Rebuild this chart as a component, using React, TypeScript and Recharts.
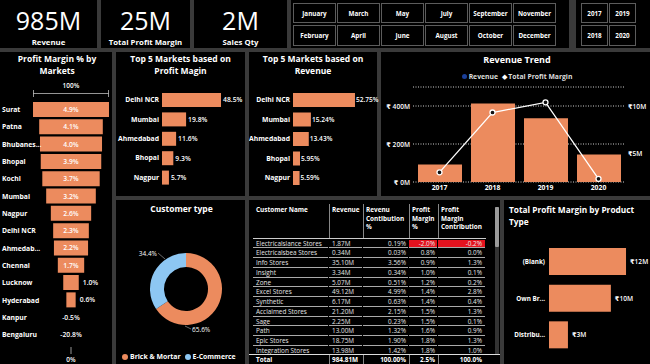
import React from 'react';
import {
  BarChart, Bar, XAxis, YAxis, LabelList, ComposedChart, Line,
  CartesianGrid, PieChart, Pie, Cell,
} from 'recharts';

const FONT = '"Open Sans", "DejaVu Sans", Arial, sans-serif';
const ORANGE = '#EC8B5E';
const BLUE = '#8DC7F3';
const GAP = '#3a3a3a';

// KPI cards
const kpiValues = ['985M', '25M', '2M'];
const kpiLabels = ['Revenue', 'Total Profit Margin', 'Sales Qty'];

// slicers
const monthsRow1 = ['January', 'March', 'May', 'July', 'September', 'November'];
const monthsRow2 = ['February', 'April', 'June', 'August', 'October', 'December'];
const yearsRow1 = ['2017', '2019'];
const yearsRow2 = ['2018', '2020'];

// funnel: profit margin % by markets
const funnelMarkets = ['Surat', 'Patna', 'Bhubanes...', 'Bhopal', 'Kochi', 'Mumbai', 'Nagpur', 'Delhi NCR', 'Ahmedab...', 'Chennai', 'Lucknow', 'Hyderabad', 'Kanpur', 'Bengaluru'];
const funnelPM = [4.9, 4.1, 4.0, 3.9, 3.7, 3.2, 2.6, 2.3, 2.2, 1.7, 1.0, 0.6, -0.5, -20.8];

// top 5 markets
const top5Markets = ['Delhi NCR', 'Mumbai', 'Ahmedabad', 'Bhopal', 'Nagpur'];
const top5Profit = [48.5, 19.8, 11.6, 9.3, 5.7];
const top5RevMarkets = ['Delhi NCR', 'Mumbai', 'Ahmedabad', 'Bhopal', 'Nagpur'];
const top5Revenue = [52.75, 15.24, 13.43, 5.95, 5.59];

// revenue trend
const trendYears = ['2017', '2018', '2019', '2020'];
const trendRevenue = [92, 413, 335, 145];
const trendProfit = [2.9, 9.4, 10.5, 2.2];

// customer type
const custTypes = ['Brick & Mortar', 'E-Commerce'];
const custShare = [65.6, 34.4];

// product type
const productTypes = ['(Blank)', 'Own Br...', 'Distribu...'];
const productProfit = [12.2, 9.8, 3.0];

// table
const tblNames = ['Electricalslance Stores', 'Electricalsbea Stores', 'Info Stores', 'Insight', 'Zone', 'Excel Stores', 'Synthetic', 'Acclaimed Stores', 'Sage', 'Path', 'Epic Stores', 'Integration Stores'];
const tblRevenue = ['1.87M', '0.34M', '35.10M', '3.34M', '5.07M', '49.12M', '6.17M', '21.20M', '2.25M', '13.00M', '18.75M', '13.98M'];
const tblRevContrib = ['0.19%', '0.03%', '3.56%', '0.34%', '0.51%', '4.99%', '0.63%', '2.15%', '0.23%', '1.32%', '1.90%', '1.42%'];
const tblPM = ['-2.0%', '0.8%', '0.9%', '1.0%', '1.2%', '1.4%', '1.4%', '1.5%', '1.5%', '1.6%', '1.8%', '1.8%'];
const tblPMC = ['-0.2%', '0.0%', '1.3%', '0.1%', '0.2%', '2.8%', '0.4%', '1.3%', '0.1%', '0.9%', '1.3%', '1.0%'];
const tblTotal = ['Total', '984.81M', '100.00%', '2.5%', '100.0%'];

const funnelData = funnelMarkets.map((m, i) => ({
  market: m,
  pm: funnelPM[i],
  range: funnelPM[i] > 0 ? [-funnelPM[i] / 2, funnelPM[i] / 2] : [0, 0],
  label: `${funnelPM[i].toFixed(1)}%`,
}));
const top5ProfitData = top5Markets.map((m, i) => ({ market: m, v: top5Profit[i] }));
const top5RevData = top5RevMarkets.map((m, i) => ({ market: m, v: top5Revenue[i] }));
const trendData = trendYears.map((y, i) => ({ year: y, revenue: trendRevenue[i], profit: trendProfit[i] }));
const custData = custTypes.map((n, i) => ({ name: n, value: custShare[i] }));
const productData = productTypes.map((p, i) => ({ type: p, v: productProfit[i] }));

const panel = (x: number, y: number, w: number, h: number, children?: React.ReactNode) => (
  <div style={{ position: 'absolute', left: x, top: y, width: w, height: h, background: '#000', overflow: 'visible' }}>
    {children}
  </div>
);

const abs = (x: number, y: number, extra: React.CSSProperties = {}): React.CSSProperties => ({
  position: 'absolute', left: x, top: y, ...extra,
});

const Title = ({ x, y, w, lines, align = 'center', size = 8.5 }: any) => (
  <div style={abs(x, y, { width: w, textAlign: align, color: '#fff', fontWeight: 700, fontSize: size, lineHeight: `${size + 3.5}px`, whiteSpace: 'nowrap' })}>
    {lines.map((l: string, i: number) => <div key={i}>{l}</div>)}
  </div>
);

const Button = ({ x, y, w, h, text }: any) => (
  <div style={abs(x, y, { width: w - 2, height: h - 2, border: '1px solid #5c5c5c', color: '#fff', fontSize: 6.3, fontWeight: 700, display: 'flex', alignItems: 'center', justifyContent: 'center', background: '#000' })}>
    {text}
  </div>
);

const makeTick = (anchor: 'start' | 'end' | 'middle', size = 6.8, weight = 700, dy = 2.5, fixedX?: number, fmt?: (v: any) => string) => (p: any) => (
  <text x={fixedX !== undefined ? fixedX : p.x} y={p.y} dy={dy} fill="#fff" fontSize={size} fontWeight={weight} fontFamily={FONT} textAnchor={anchor}>
    {fmt ? fmt(p.payload.value) : p.payload.value}
  </text>
);

// funnel category tick; also shows the value of markets without a bar (negative margin) at the funnel centre
const FUNNEL_CENTER_X = 71;
const FunnelTick = (p: any) => {
  const d = funnelData[p.index];
  return (
    <g>
      <text x={2} y={p.y} dy={2.5} fill="#fff" fontSize={6.8} fontWeight={700} fontFamily={FONT} textAnchor="start">{p.payload.value}</text>
      {d && d.pm <= 0 ? (
        <text x={FUNNEL_CENTER_X} y={p.y} dy={2.5} fill="#fff" fontSize={6.8} fontWeight={600} fontFamily={FONT} textAnchor="middle">{d.label}</text>
      ) : null}
    </g>
  );
};
const RightAlignTick = makeTick('end', 6.8, 700, 2.5);
const ProductTick = makeTick('end', 6.3, 700, 2.5);
const XTick = makeTick('middle', 6.8, 700, 6);
const LeftMoneyTick = makeTick('end', 6.6, 600, 2.5, undefined, (v) => `₹ ${v}M`);
const RightMoneyTick = makeTick('start', 6.6, 600, 2.5, undefined, (v) => `₹${v}M`);

const FunnelLabel = (p: any) => {
  const { x, y, width, height, value } = p;
  const w = Number(width);
  if (String(value).startsWith('-') || !(w > 0)) return null;
  const cy = Number(y) + Number(height) / 2;
  if (w > 20) {
    return <text x={Number(x) + w / 2} y={cy} dy={2.5} fill="#fff" fontSize={6.8} fontWeight={600} textAnchor="middle" fontFamily={FONT}>{value}</text>;
  }
  return <text x={Number(x) + w + 4} y={cy} dy={2.5} fill="#fff" fontSize={6.8} fontWeight={600} textAnchor="start" fontFamily={FONT}>{value}</text>;
};

const PieLabel = (p: any) => {
  const { cx, cy, outerRadius, index, value } = p;
  const txt = `${Number(value).toFixed(1)}%`;
  if (index === 1) {
    return (
      <g>
        <line x1={cx - 28} y1={cy - 36} x2={cx - 21} y2={cy - 30} stroke="#999" strokeWidth={0.7} />
        <text x={cx - 29} y={cy - outerRadius} dy={2.5} fill="#fff" fontSize={6.5} fontFamily={FONT} textAnchor="end">{txt}</text>
      </g>
    );
  }
  return (
    <g>
      <line x1={cx - 1} y1={cy + outerRadius + 1} x2={cx + 5} y2={cy + outerRadius + 4} stroke="#999" strokeWidth={0.7} />
      <text x={cx + 6} y={cy + outerRadius + 4} dy={2.5} fill="#fff" fontSize={6.5} fontFamily={FONT} textAnchor="start">{txt}</text>
    </g>
  );
};

const cols = [
  { x: 253, w: 76, align: 'left' as const, pad: 3 },
  { x: 329, w: 34, align: 'left' as const, pad: 3 },
  { x: 363, w: 46, align: 'right' as const, pad: 2 },
  { x: 409, w: 29, align: 'right' as const, pad: 2 },
  { x: 438, w: 48, align: 'right' as const, pad: 3 },
];
const headers = [['Customer Name'], ['Revenue'], ['Revenu', 'Contibution', '%'], ['Profit', 'Margin', '%'], ['Profit', 'Margin', 'Contribution']];

export default function App() {
  const rowH = 9.76;
  return (
    <div style={{ position: 'fixed', left: 0, top: 0, width: 650, height: 364, background: GAP, fontFamily: FONT, overflow: 'hidden' }}>
      {/* KPI cards */}
      {[[0, 97], [101, 89], [194, 93]].map(([x, w], i) =>
        <React.Fragment key={i}>
          {panel(x, 0, w, 48)}
          <div style={abs(x, 5, { width: w, textAlign: 'center', color: '#fff', fontSize: 25, lineHeight: '30px' })}>{kpiValues[i]}</div>
          <div style={abs(x, 37, { width: w, textAlign: 'center', color: '#fff', fontSize: 7.8, fontWeight: 700 })}>{kpiLabels[i]}</div>
        </React.Fragment>
      )}
      {/* slicers */}
      {panel(291, 0, 278, 48)}
      {panel(576, 0, 74, 48)}
      {monthsRow1.map((m, i) => <Button key={m} x={293 + i * 44} y={3} w={43} h={20} text={m} />)}
      {monthsRow2.map((m, i) => <Button key={m} x={293 + i * 44} y={25} w={43} h={21} text={m} />)}
      {yearsRow1.map((m, i) => <Button key={m} x={581 + i * 28} y={3} w={27} h={20} text={m} />)}
      {yearsRow2.map((m, i) => <Button key={m} x={581 + i * 28} y={25} w={27} h={21} text={m} />)}

      {/* funnel panel */}
      {panel(0, 52, 112, 312)}
      <Title x={0} y={53} w={114} lines={['Profit Margin % by', 'Markets']} />
      <div style={abs(51, 81, { width: 40, textAlign: 'center', color: '#fff', fontSize: 6.5, fontWeight: 600 })}>100%</div>
      <svg style={abs(0, 0)} width={650} height={364}>
        <line x1={33} y1={93.5} x2={109} y2={93.5} stroke="#bbb" strokeWidth={0.8} />
        <line x1={33.5} y1={90} x2={33.5} y2={97} stroke="#bbb" strokeWidth={0.8} />
        <line x1={108.5} y1={90} x2={108.5} y2={97} stroke="#bbb" strokeWidth={0.8} />
        <line x1={71} y1={347} x2={71} y2={354} stroke="#bbb" strokeWidth={0.8} />
      </svg>
      <div style={abs(51, 355, { width: 40, textAlign: 'center', color: '#fff', fontSize: 6.5, fontWeight: 600 })}>0%</div>
      <div style={abs(0, 101.3)}>
        <BarChart width={112} height={242.3} data={funnelData} layout="vertical" margin={{ top: 0, right: 3, bottom: 0, left: 0 }}>
          <XAxis type="number" hide domain={[-2.45, 2.45]} />
          <YAxis type="category" dataKey="market" width={33} tick={FunnelTick} interval={0} tickLine={false} axisLine={false} />
          <Bar dataKey="range" fill={ORANGE} barSize={15} isAnimationActive={false}>
            <LabelList dataKey="label" content={FunnelLabel} />
          </Bar>
        </BarChart>
      </div>

      {/* top5 profit */}
      {panel(116, 52, 129, 144)}
      <Title x={116} y={53} w={129} lines={['Top 5 Markets based on', 'Profit Magin']} />
      <div style={abs(116, 90.4)}>
        <BarChart width={139} height={97} data={top5ProfitData} layout="vertical" margin={{ top: 0, right: 20, bottom: 0, left: 0 }}>
          <XAxis type="number" hide domain={[0, 60]} />
          <YAxis type="category" dataKey="market" width={46} tick={RightAlignTick} interval={0} tickLine={false} axisLine={false} tickSize={0} tickMargin={3} />
          <Bar dataKey="v" fill={ORANGE} barSize={14} isAnimationActive={false}>
            <LabelList dataKey="v" position="right" offset={2} fill="#fff" fontSize={6.8} fontWeight={600} fontFamily={FONT} formatter={(v: any) => `${Number(v).toFixed(1)}%`} />
          </Bar>
        </BarChart>
      </div>

      {/* top5 revenue */}
      {panel(249, 52, 128, 144)}
      <Title x={249} y={53} w={128} lines={['Top 5 Markets based on', 'Revenue']} />
      <div style={abs(249, 90.3)}>
        <BarChart width={140} height={97.5} data={top5RevData} layout="vertical" margin={{ top: 0, right: 25.5, bottom: 0, left: 0 }}>
          <XAxis type="number" hide domain={[0, 60]} />
          <YAxis type="category" dataKey="market" width={44} tick={RightAlignTick} interval={0} tickLine={false} axisLine={false} tickSize={0} tickMargin={3} />
          <Bar dataKey="v" fill={ORANGE} barSize={14} isAnimationActive={false}>
            <LabelList dataKey="v" position="right" offset={1} fill="#fff" fontSize={6.6} fontWeight={600} fontFamily={FONT} formatter={(v: any) => `${Number(v).toFixed(2)}%`} />
          </Bar>
        </BarChart>
      </div>

      {/* revenue trend */}
      {panel(381, 52, 269, 144)}
      <Title x={381} y={54} w={272} lines={['Revenue Trend']} size={9} />
      <div style={abs(381, 72, { width: 272, display: 'flex', justifyContent: 'center', alignItems: 'center', color: '#ddd', fontSize: 6.8, fontWeight: 700, whiteSpace: 'nowrap' })}>
        <span style={{ display: 'inline-block', width: 5, height: 5, borderRadius: 3, background: '#1A3F9A', marginRight: 2 }} />
        <span style={{ marginRight: 4 }}>Revenue</span>
        <span style={{ fontSize: 7, marginRight: 1, color: '#fff' }}>◆</span>
        <span>Total Profit Margin</span>
      </div>
      <div style={abs(381, 80)}>
        <ComposedChart width={269} height={115} data={trendData} margin={{ top: 7, right: 0, bottom: 0, left: 0 }}>
          <CartesianGrid yAxisId="l" vertical={false} stroke="#cfcfcf" strokeDasharray="1 1.5" />
          <XAxis dataKey="year" height={13} tick={XTick} interval={0} tickLine={false} axisLine={false} tickSize={0} tickMargin={2} />
          <YAxis yAxisId="l" width={32} domain={[0, 500]} ticks={[0, 200, 400]} tick={LeftMoneyTick} interval={0} tickLine={false} axisLine={false} tickSize={0} tickMargin={3} />
          <YAxis yAxisId="r" orientation="right" width={25} domain={[1.85, 12.17]} ticks={[5, 10]} tick={RightMoneyTick} interval={0} tickLine={false} axisLine={false} tickSize={0} tickMargin={3} allowDataOverflow />
          <Bar yAxisId="l" dataKey="revenue" fill={ORANGE} barSize={44} isAnimationActive={false} />
          <Line yAxisId="r" dataKey="profit" stroke="#fff" strokeWidth={1.3} dot={{ r: 2.5, fill: '#111', stroke: '#fff', strokeWidth: 1.3 }} isAnimationActive={false} />
        </ComposedChart>
      </div>

      {/* customer type */}
      {panel(116, 200, 129, 164)}
      <Title x={116} y={203} w={131} lines={['Customer type']} size={8.5} />
      <div style={abs(116, 200)}>
        <PieChart width={129} height={150}>
          <Pie data={custData} dataKey="value" nameKey="name" cx={65} cy={84} innerRadius={22} outerRadius={36} startAngle={90} endAngle={-270} stroke="none" label={PieLabel} labelLine={false} isAnimationActive={false}>
            <Cell fill={ORANGE} />
            <Cell fill={BLUE} />
          </Pie>
        </PieChart>
      </div>
      <div style={abs(122, 352, { display: 'flex', alignItems: 'center', color: '#fff', fontSize: 6.9, fontWeight: 700, whiteSpace: 'nowrap' })}>
        <span style={{ display: 'inline-block', width: 6, height: 6, borderRadius: 3, background: ORANGE, marginRight: 2 }} />
        <span style={{ marginRight: 4 }}>{custTypes[0]}</span>
        <span style={{ display: 'inline-block', width: 6, height: 6, borderRadius: 3, background: BLUE, marginRight: 2 }} />
        <span>{custTypes[1]}</span>
      </div>

      {/* table */}
      {panel(249, 200, 251, 164)}
      {headers.map((h, ci) => (
        <div key={ci} style={abs(cols[ci].x, 206, { width: cols[ci].w, paddingLeft: 3, boxSizing: 'border-box', color: '#fff', fontWeight: 700, fontSize: 6.4, lineHeight: '8.7px' })}>
          {h.map((l, k) => <div key={k}>{l}</div>)}
        </div>
      ))}
      <svg style={abs(0, 0)} width={650} height={364}>
        {[329, 363, 409, 438].map((x) => (
          <line key={x} x1={x + 0.5} y1={204} x2={x + 0.5} y2={238} stroke="#aaa" strokeWidth={0.8} />
        ))}
        <line x1={253} y1={238.5} x2={486} y2={238.5} stroke="#ccc" strokeWidth={1} />
        <rect x={495} y={207} width={4} height={150} fill="#333" />
        <rect x={495} y={207} width={4} height={40} fill="#9a9a9a" rx={1} />
      </svg>
      {tblNames.map((n, r) => {
        const vals = [n, tblRevenue[r], tblRevContrib[r], tblPM[r], tblPMC[r]];
        return vals.map((v, ci) => (
          <div key={`${r}-${ci}`} style={abs(cols[ci].x, 239.5 + r * rowH, {
            width: cols[ci].w - 1, height: rowH - 1, boxSizing: 'border-box',
            borderBottom: '1px solid #aaa',
            background: r === 0 && ci >= 3 ? '#E3121E' : 'transparent',
            color: '#e6e6e6', fontSize: 6.4, lineHeight: `${rowH - 1}px`, textAlign: cols[ci].align,
            paddingLeft: cols[ci].align === 'left' ? cols[ci].pad : 0, paddingRight: cols[ci].align === 'right' ? cols[ci].pad : 0,
            whiteSpace: 'nowrap', overflow: 'hidden',
          })}>{v}</div>
        ));
      })}
      <div style={abs(249, 354, { width: 251, height: 10, background: '#000', borderTop: '1px solid #ddd' })} />
      {tblTotal.map((v, ci) => (
        <div key={`t${ci}`} style={abs(cols[ci].x, 355, {
          width: cols[ci].w - 1, height: 9, color: '#fff', fontWeight: 700, fontSize: 6.4, lineHeight: '9px', textAlign: cols[ci].align,
          paddingLeft: cols[ci].align === 'left' ? cols[ci].pad : 0, paddingRight: cols[ci].align === 'right' ? cols[ci].pad : 0, boxSizing: 'border-box',
        })}>{v}</div>
      ))}
      <svg style={abs(0, 0)} width={650} height={364}>
        {[329, 363, 409, 438].map((x) => (
          <line key={x} x1={x + 0.5} y1={355} x2={x + 0.5} y2={364} stroke="#aaa" strokeWidth={0.8} />
        ))}
      </svg>

      {/* product type */}
      {panel(504, 200, 146, 164)}
      <Title x={509} y={204} w={140} lines={['Total Profit Margin by Product', 'Type']} align="left" size={8.3} />
      <div style={abs(504, 242.6)}>
        <BarChart width={146} height={110} data={productData} layout="vertical" margin={{ top: 0, right: 6.3, bottom: 0, left: 0 }}>
          <XAxis type="number" hide domain={[0, 15]} />
          <YAxis type="category" dataKey="type" width={45} tick={ProductTick} interval={0} tickLine={false} axisLine={false} tickSize={0} tickMargin={4} />
          <Bar dataKey="v" fill={ORANGE} barSize={27} isAnimationActive={false}>
            <LabelList dataKey="v" position="right" offset={4} fill="#fff" fontSize={6.6} fontWeight={600} fontFamily={FONT} formatter={(v: any) => `₹${Math.round(Number(v))}M`} />
          </Bar>
        </BarChart>
      </div>
    </div>
  );
}
